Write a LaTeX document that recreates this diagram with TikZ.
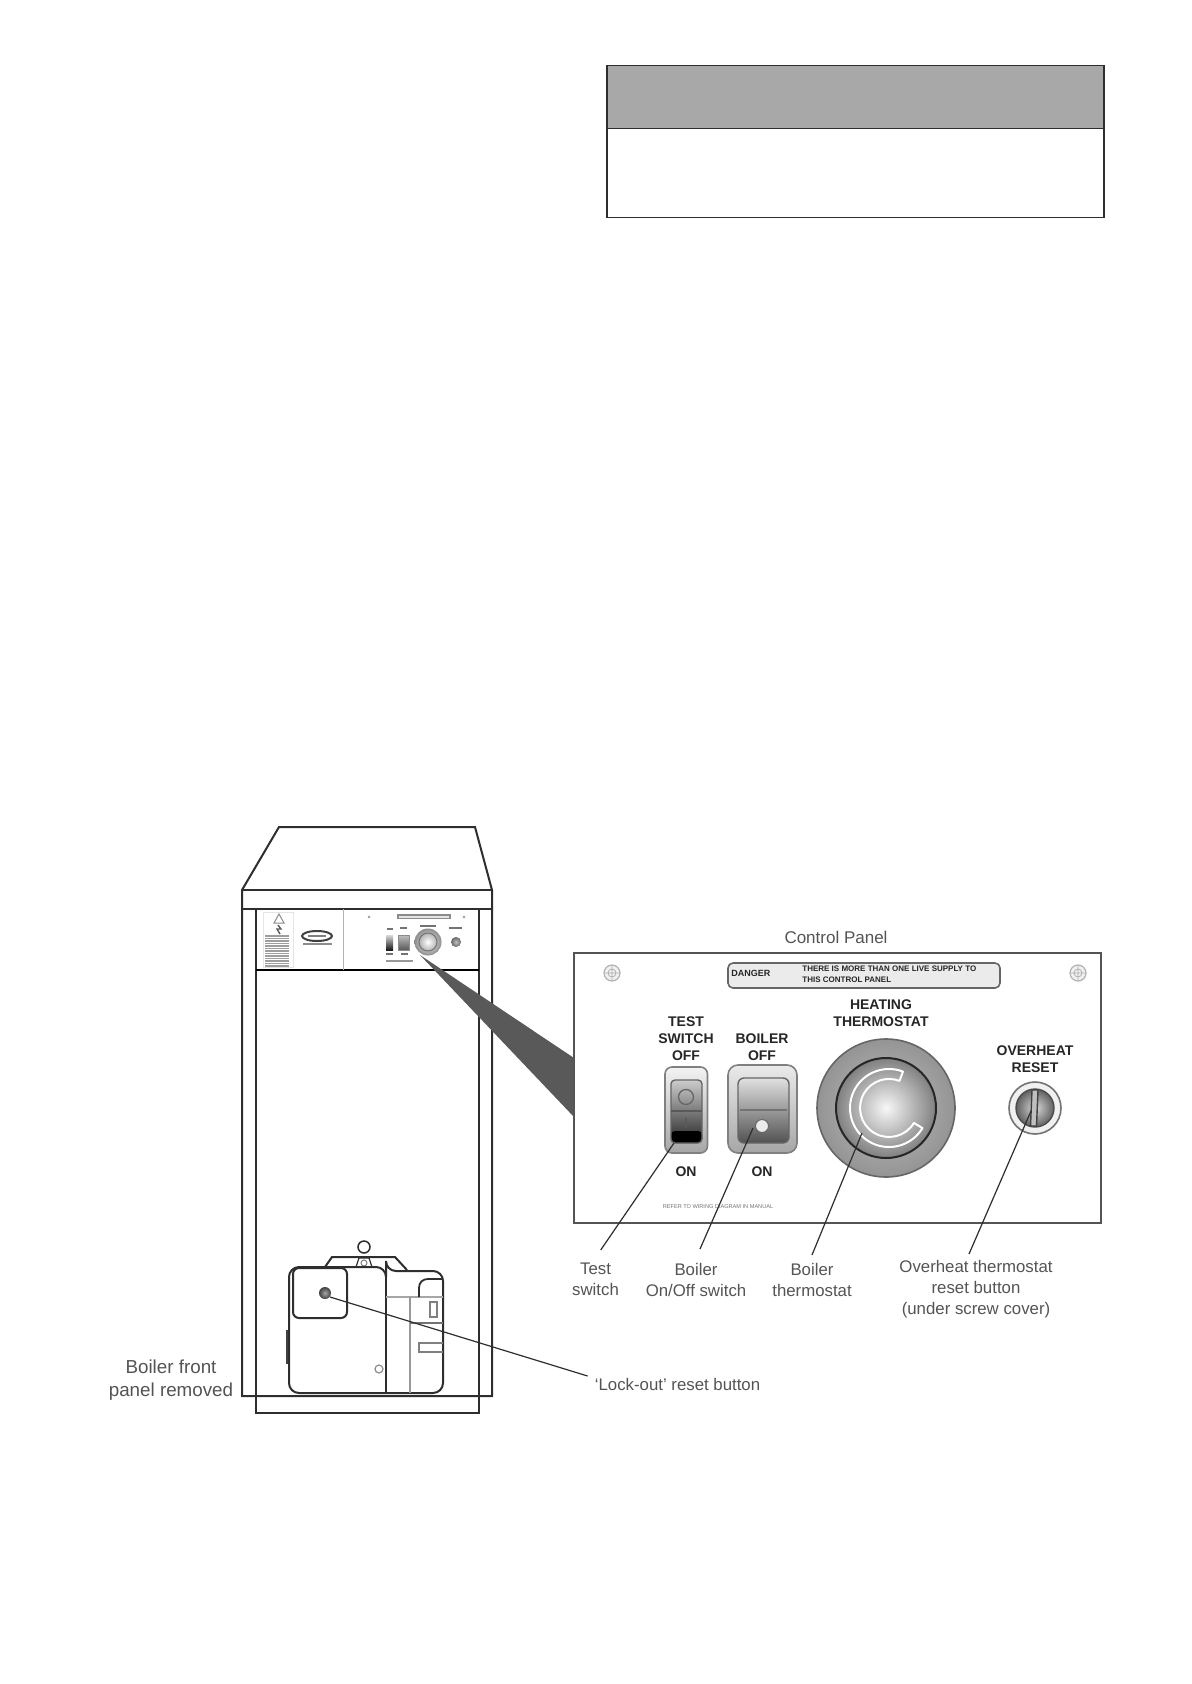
\documentclass[tikz,border=0pt]{standalone}
\usepackage{fontspec}
\setmainfont{Liberation Sans}
\definecolor{ink}{gray}{0.18}
\definecolor{lab}{gray}{0.33}
\definecolor{pan}{gray}{0.33}
\tikzset{
  px/.style={line width=#1*0.5pt},
  lbl/.style={text=lab,align=center,inner sep=0pt,font=\fontsize{8.4}{10.5}\selectfont},
  capt/.style={text=black!85,align=center,inner sep=0pt,font=\fontsize{7}{8.5}\selectfont\bfseries},
  leader/.style={draw=ink,px=1.2},
  body/.style={draw=ink,px=2},
  mini/.style={draw=black!45,px=1},
  screw/.style={draw=black!30,px=1.2,fill=black!6},
}
\begin{document}
\begin{tikzpicture}[x=0.5pt,y=-0.5pt]
\useasboundingbox[fill=white] (0,0) rectangle (1191,1684);
% top box
\fill[black!34] (607,65.5) rectangle (1104,128.5);
\draw[ink,px=1.2] (607,65.5) rectangle (1104,217.5);
\draw[ink,px=1.2] (607,128.5) -- (1104,128.5);
% boiler casing
\draw[body,line join=miter] (242,1396) -- (242,890) -- (279,827) -- (475,827) -- (492,890) -- (492,1396) -- cycle;
\draw[body] (242,890) -- (492,890);
\draw[body] (242,909) -- (492,909);
\draw[body] (256,909) -- (256,1413) -- (479,1413) -- (479,909);
\draw[draw=black,px=2.6] (256,970) -- (479,970);
% mini control panel
\draw[mini,black!30] (343,909) -- (343,970);
\draw[black!10,px=1] (263,912) rectangle (293,967);
\draw[mini] (279,914) -- (284,923) -- (274,923) -- cycle;
\draw[black!65,px=1.4] (278,925) -- (281,929) -- (277,929) -- (280,934);
\foreach \y in {936,938.5,...,966}{\draw[black!38,px=1.3] (265,\y) -- (289,\y);}
\draw[black!75,px=2] (317,936) ellipse [x radius=15,y radius=5];
\draw[black!50,px=1.6] (308,936) -- (326,936);
\draw[black!45,px=1.6] (303,944) -- (332,944);
\fill[black!40] (369,917) circle [radius=1.3];
\fill[black!40] (464,917) circle [radius=1.3];
\draw[black!45,px=1.2,fill=black!10] (398,915) rectangle (450,918.5);
\draw[black!55,px=1.2] (387,929) -- (393,929);
\draw[black!55,px=1.2] (400,928) -- (407,928);
\draw[black!55,px=1.2] (420,926) -- (436,926);
\draw[black!55,px=1.2] (449,928) -- (462,928);
\shade[top color=black!15,bottom color=black!90] (386,935) rectangle (393,950);
\shade[top color=black!25,bottom color=black!65] (398,935) rectangle (409,950);
\draw[black!45,px=1] (398,935) rectangle (409,950);
\shade[inner color=white,outer color=black!45] (428,942) circle [radius=13.5];
\draw[black!55,px=1] (428,942) circle [radius=9];
\shade[inner color=black!25,outer color=black!60] (456,942) circle [radius=5];
\draw[black!55,px=1.2] (386,954) -- (393,954);
\draw[black!55,px=1.2] (401,954) -- (408,954);
\draw[black!40,px=1.2] (386,961) -- (413,961);
% burner
\draw[body] (325,1267) -- (332,1257) -- (395,1257) -- (407,1270);
\draw[ink,px=1.5] (364,1247) circle [radius=6];
\draw[ink,px=1.2,fill=white] (356,1267) -- (359,1258) -- (369,1258) -- (372,1267);
\draw[black!50,px=1] (364,1263) circle [radius=3];
\fill[black!75] (286,1330) rectangle (289,1364);
\draw[body,rounded corners=5pt,fill=white] (289,1393) -- (289,1267) -- (386,1267) -- (386,1271) -- (443,1271) -- (443,1393) -- cycle;
\draw[body,rounded corners=3pt] (293,1318) rectangle (347,1268);
\draw[body] (386,1267) -- (386,1393);
\draw[black!35,px=1.5] (386,1297) -- (443,1297);
\draw[black!40,px=1.5] (410,1297) -- (410,1393);
\draw[black!55,px=1.5] (410,1323) -- (443,1323);
\draw[ink,px=1.8] (419,1297) -- (419,1288) .. controls (419,1282) and (423,1279) .. (428,1279) -- (443,1279);
\draw[black!50,px=1.5] (430,1302) rectangle (437,1317);
\draw[black!50,px=1.5] (443,1343) -- (419,1343) -- (419,1352) -- (443,1352);
\draw[black!45,px=1.2] (379,1369) circle [radius=4];
\shade[inner color=black!35,outer color=black!75] (325,1293) circle [radius=6];
% wedge
\fill[black!65] (420,955) -- (574,1058) -- (574,1117) -- cycle;
% control panel
\node[lbl,font=\fontsize{8.5}{10}\selectfont] (title) at (836,937) {Control Panel};
\draw[pan,px=2.4,fill=white] (574,953) rectangle (1101,1223);
\draw[screw] (612,973) circle [radius=8];
\draw[black!30,px=0.8] (604,973) -- (620,973) (612,965) -- (612,981) (612,973) circle [radius=4];
\draw[screw] (1078,973) circle [radius=8];
\draw[black!30,px=0.8] (1070,973) -- (1086,973) (1078,965) -- (1078,981) (1078,973) circle [radius=4];
\draw[black!60,px=1.6,rounded corners=2.5pt,fill=black!8] (728,963) rectangle (1000,988);
\node[capt,anchor=west,font=\fontsize{4.5}{5}\selectfont\bfseries] (dang) at (731,973.5) {DANGER};
\node[capt,anchor=west,font=\fontsize{4}{5.4}\selectfont\bfseries] (dangtext) at (802,975) {\begin{tabular}{@{}l@{}}THERE IS MORE THAN ONE LIVE SUPPLY TO\\THIS CONTROL PANEL\end{tabular}};
\node[capt] (heat) at (881,1013.5) {HEATING\\THERMOSTAT};
\node[capt] (test) at (686,1039) {TEST\\SWITCH\\OFF};
\node[capt] (boil) at (762,1047.5) {BOILER\\OFF};
\node[capt] (over) at (1035,1059.5) {OVERHEAT\\RESET};
\node[capt] (on1) at (686,1172) {ON};
\node[capt] (on2) at (762,1172) {ON};
\node[text=black!55,inner sep=0pt,font=\fontsize{2.8}{3}\selectfont] (refer) at (718,1207) {REFER TO WIRING DIAGRAM IN MANUAL};
% test switch
\draw[black!50,px=1.6,rounded corners=3.5pt,top color=black!5,bottom color=black!35] (665,1067) rectangle (707.5,1153);
\shade[rounded corners=2pt,top color=black!20,bottom color=black!85] (671,1080) rectangle (702,1143);
\fill[black,rounded corners=2pt] (671,1131) rectangle (702,1143);
\draw[black!60,px=1.4,rounded corners=2pt] (671,1080) rectangle (702,1143);
\draw[black!60,px=1.3] (686,1097) circle [radius=7.5];
\draw[black!65,px=1.3] (671,1111) -- (702,1111);
\draw[black!65,px=1.3] (686,1118) -- (686,1128);
% boiler switch
\draw[black!50,px=1.6,rounded corners=5pt,top color=black!8,bottom color=black!35] (728,1065) rectangle (797,1153);
\shade[rounded corners=3pt,top color=black!12,bottom color=black!68] (738,1078) rectangle (789,1143);
\draw[black!60,px=1.4,rounded corners=3pt] (738,1078) rectangle (789,1143);
\draw[black!55,px=1.5] (740,1110) -- (787,1110);
\draw[black!60,px=1,fill=black!8] (762,1126) circle [radius=6.5];
% thermostat
\shade[inner color=black!25,outer color=black!42] (886,1108) circle [radius=69];
\draw[black!60,px=1.6] (886,1108) circle [radius=69];
\shade[inner color=black!3,outer color=black!50] (886,1108) circle [radius=50];
\draw[black!85,px=2] (886,1108) circle [radius=50];
\draw[white,px=2,line join=round] (889,1108) ++(-69:39) arc[start angle=-69,end angle=-329,radius=39] -- (913.9,1122.9) arc[start angle=-329,end angle=-69,radius=29] -- cycle;
% overheat
\draw[black!55,px=1.6,fill=black!6] (1035,1108) circle [radius=26];
\shade[inner color=black!15,outer color=black!62] (1035,1108) circle [radius=19];
\draw[black!70,px=1.4] (1035,1108) circle [radius=19];
\draw[black!75,px=1.4,fill=black!25] (1032,1090) -- (1030.5,1126) -- (1036.5,1126) -- (1038,1090) -- cycle;
% labels
\node[lbl] (ltest) at (595.5,1279.5) {Test\\switch};
\node[lbl] (lboil) at (696,1279.5) {Boiler\\On/Off switch};
\node[lbl] (lther) at (812,1279.5) {Boiler\\thermostat};
\node[lbl] (lover) at (976,1289) {Overheat thermostat\\reset button\\(under screw cover)};
\node[lbl,anchor=west] (llock) at (594.5,1384) {`Lock-out' reset button};
\node[lbl,font=\fontsize{9.4}{11.8}\selectfont] (lfront) at (171,1380) {Boiler front\\panel removed};
% leader ends
\coordinate (a1) at (674,1143); \coordinate (a2) at (600.7,1250);
\coordinate (b1) at (753,1128); \coordinate (b2) at (700,1249);
\coordinate (c1) at (862,1133); \coordinate (c2) at (812,1255);
\coordinate (d1) at (1031,1111); \coordinate (d2) at (969,1254);
\coordinate (e1) at (330,1297); \coordinate (e2) at (587.6,1376);
\draw[leader] (a1) -- (a2);
\draw[leader] (b1) -- (b2);
\draw[leader] (c1) -- (c2);
\draw[leader] (d1) -- (d2);
\draw[leader] (e1) -- (e2);
\end{tikzpicture}
\end{document}
